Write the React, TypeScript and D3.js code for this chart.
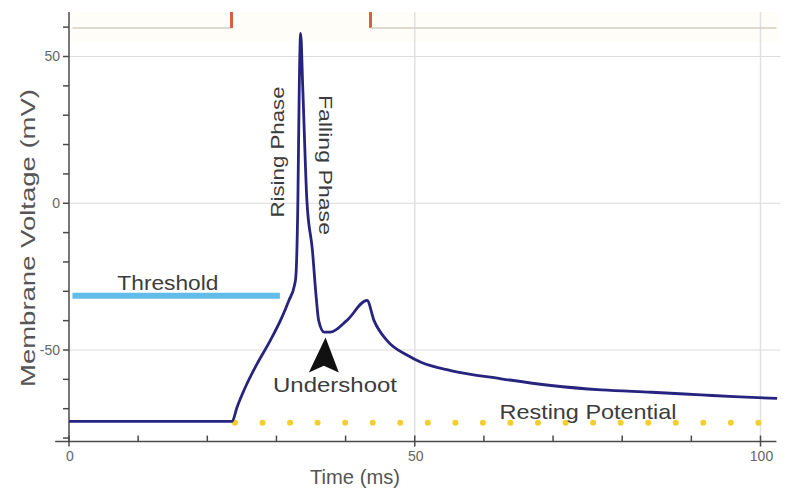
import React from 'react';
import * as d3 from 'd3';

// membrane voltage trace (ms, mV)
const traceTime = [0, 23.6, 24.3, 25.5, 27.2, 29.1, 30.8, 31.8, 32.6, 32.8, 33.1, 33.3, 33.5, 33.8, 34.4, 35.2, 35.7, 36.1, 36.9, 37.8, 40.2, 43.1, 44.1, 46.0, 49.0, 50.9, 55.2, 62.5, 69.7, 77.0, 84.2, 91.4, 96.2, 102.4];
const traceVoltage = [-74.3, -74.3, -69.5, -62.7, -54.7, -46.8, -38.8, -33.1, -28.0, -25.2, 1.0, 39.7, 57.9, 39.7, 1.0, -16.0, -30.7, -39.9, -43.9, -43.9, -39.9, -33.1, -39.9, -46.8, -51.9, -54.2, -57.0, -59.8, -62.1, -63.6, -64.4, -65.3, -65.9, -66.5];

// stimulus trace shown along the top
const stimTime = [0.5, 23.5, 23.5, 43.6, 43.6, 102.3];
const stimLevel = [59.7, 59.7, 70, 70, 59.7, 59.7];

const thresholdSpan = [0.5, 30.5];
const thresholdVoltage = -31.5;
const restingSpan = [24, 103];
const restingVoltage = -74.8;
const undershootTip = [37.1, -45.7];

const xMajorTicks = [0, 50, 100];
const xMinorTicks = [10, 20, 30, 40, 60, 70, 80, 90];
const yMajorTicks = [-50, 0, 50];
const yMinorTicks = [-80, -70, -60, -40, -30, -20, -10, 10, 20, 30, 40, 60];

const W = 786, H = 491;
const FONT = "'Liberation Sans', Arial, sans-serif";
const TEXT = '#3c3c3c';

export default function App() {
  const x = d3.scaleLinear().domain([0, 100]).range([69, 760.5]);
  const y = d3.scaleLinear().domain([-50, 50]).range([350, 56.5]);
  const xLo = -2, xHi = 102.3;
  const yLo = -81.2, yHi = 65.2;

  const trace = d3.line<number>().x((_, i) => x(traceTime[i])).y((v) => y(v)).curve(d3.curveMonotoneX)(traceVoltage) || '';

  const stimSegs = stimTime.slice(0, -1).map((t, i) => ({
    x1: x(t), x2: x(stimTime[i + 1]), y1: y(stimLevel[i]), y2: y(stimLevel[i + 1]),
    vertical: t === stimTime[i + 1],
  }));

  const [ut, uv] = undershootTip;
  const ax = x(ut), ay = y(uv);
  const arrow = `M${ax},${ay} L${ax - 16.7},${ay + 35} L${ax - 1.7},${ay + 28.3} L${ax + 13.3},${ay + 35} Z`;

  return (
    <svg width={W} height={H} style={{ position: 'absolute', left: 0, top: 0, background: '#fff' }} fontFamily={FONT}>
      <defs>
        <clipPath id="plot">
          <rect x={x(xLo)} y={y(yHi)} width={x(xHi) - x(xLo) + 10} height={y(yLo) - y(yHi)} />
        </clipPath>
      </defs>

      {/* faint band at the top */}
      <rect x={x(0) + 2} y={y(yHi)} width={x(xHi) - x(0)} height={30} fill="#fefdf8" />

      {/* grid */}
      {yMajorTicks.map((v) => (
        <line key={'gy' + v} x1={x(0)} x2={x(xHi) + 4} y1={y(v)} y2={y(v)} stroke="#dedbd8" strokeWidth={1.2} />
      ))}
      {[50, 100].map((t) => (
        <line key={'gx' + t} x1={x(t)} x2={x(t)} y1={y(yHi)} y2={y(yLo)} stroke="#e2e0e0" strokeWidth={1.5} />
      ))}

      {/* stimulus */}
      <g clipPath="url(#plot)">
        {stimSegs.map((s, i) => (
          <line key={'s' + i} x1={s.x1} x2={s.x2} y1={s.y1} y2={s.y2}
            stroke={s.vertical ? '#d8603c' : '#d6cdc6'} strokeWidth={s.vertical ? 3 : 1.6} />
        ))}
      </g>

      {/* resting potential dots */}
      <line x1={x(restingSpan[0])} x2={x(restingSpan[1])} y1={y(restingVoltage)} y2={y(restingVoltage)}
        stroke="#f2cf2e" strokeWidth={6} strokeLinecap="round" strokeDasharray="0 27.55" />

      {/* threshold */}
      <line x1={x(thresholdSpan[0])} x2={x(thresholdSpan[1])} y1={y(thresholdVoltage)} y2={y(thresholdVoltage)}
        stroke="#62bce9" strokeWidth={6} />

      {/* axes */}
      <g stroke="#4a4a4a" strokeWidth={1.5}>
        <line x1={x(0)} x2={x(0)} y1={y(yHi)} y2={y(yLo)} />
        <line x1={x(xLo)} x2={x(xHi)} y1={y(yLo)} y2={y(yLo)} />
        {yMajorTicks.concat(yMinorTicks).map((v) => (
          <line key={'yt' + v} x1={x(0) - 6} x2={x(0)} y1={y(v)} y2={y(v)} />
        ))}
        {xMinorTicks.map((t) => (
          <line key={'xt' + t} x1={x(t)} x2={x(t)} y1={y(yLo) - 6} y2={y(yLo)} />
        ))}
        {xMajorTicks.map((t) => (
          <line key={'xM' + t} x1={x(t)} x2={x(t)} y1={y(yLo) - 6} y2={y(yLo) + 5} />
        ))}
      </g>
      <g fill="#666" fontSize={14}>
        {yMajorTicks.map((v) => (
          <text key={'yl' + v} x={x(0) - 9} y={y(v)} dy="0.35em" textAnchor="end">{v < 0 ? '-' + Math.abs(v) : v}</text>
        ))}
        {xMajorTicks.map((t) => (
          <text key={'xl' + t} x={x(t) + 1} y={y(yLo) + 19} textAnchor="middle">{t}</text>
        ))}
      </g>

      {/* voltage trace */}
      <path d={trace} fill="none" stroke="#26247f" strokeWidth={2.8} strokeLinejoin="round" clipPath="url(#plot)" />

      {/* annotations */}
      <g fill={TEXT}>
        <text x={x(14.3)} y={y(thresholdVoltage) - 6} textAnchor="middle" fontSize={21} textLength={101} lengthAdjust="spacingAndGlyphs">Threshold</text>
        <text transform={`translate(284,152) rotate(-90)`} textAnchor="middle" fontSize={19} textLength={131} lengthAdjust="spacingAndGlyphs">Rising Phase</text>
        <text transform={`translate(319,165) rotate(90)`} textAnchor="middle" fontSize={19} textLength={140} lengthAdjust="spacingAndGlyphs">Falling Phase</text>
        <text x={335} y={392} textAnchor="middle" fontSize={21} textLength={124} lengthAdjust="spacingAndGlyphs">Undershoot</text>
        <text x={588} y={419} textAnchor="middle" fontSize={21} textLength={177} lengthAdjust="spacingAndGlyphs">Resting Potential</text>
      </g>
      <path d={arrow} fill="#111" />

      {/* axis titles */}
      <g fill="#555">
        <text transform={`translate(35,238) rotate(-90)`} textAnchor="middle" fontSize={20} textLength={298} lengthAdjust="spacingAndGlyphs">Membrane Voltage (mV)</text>
        <text x={355} y={484} textAnchor="middle" fontSize={21} textLength={90} lengthAdjust="spacingAndGlyphs">Time (ms)</text>
      </g>
    </svg>
  );
}
